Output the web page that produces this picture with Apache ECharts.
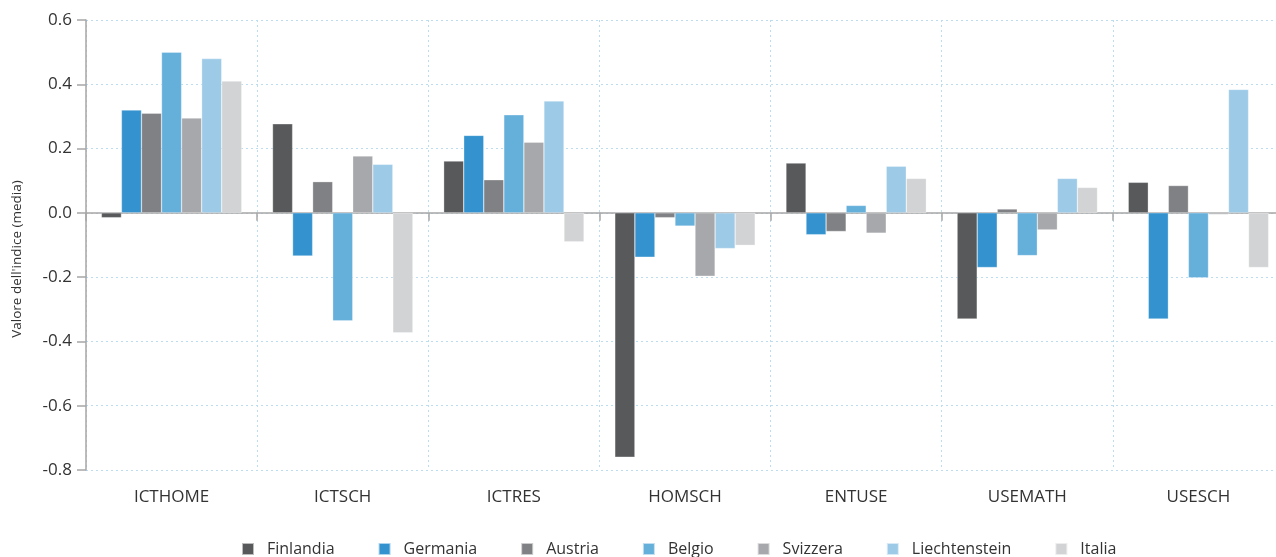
<!DOCTYPE html>
<html>
<head>
<meta charset="utf-8">
<script src="https://cdn.jsdelivr.net/npm/echarts@6/dist/echarts.min.js"></script>
<style>
  html, body { margin: 0; padding: 0; background: #fff; }
  #chart { width: 1276px; height: 557px; }
</style>
</head>
<body>
<div id="chart"></div>
<script>
var chart = echarts.init(document.getElementById('chart'));

var categories = ['ICTHOME', 'ICTSCH', 'ICTRES', 'HOMSCH', 'ENTUSE', 'USEMATH', 'USESCH'];
var countries = ['Finlandia', 'Germania', 'Austria', 'Belgio', 'Svizzera', 'Liechtenstein', 'Italia'];
var colors = ['#58595b', '#3493cf', '#808184', '#65afdb', '#a7a8ab', '#9dcae7', '#d2d3d5'];

// valori per paese, nell'ordine delle categorie
var finlandia     = [-0.015,  0.277,  0.161, -0.760,  0.155, -0.330,  0.095];
var germania      = [ 0.320, -0.134,  0.241, -0.138, -0.068, -0.170, -0.330];
var austria       = [ 0.310,  0.097,  0.103, -0.015, -0.058,  0.012,  0.085];
var belgio        = [ 0.500, -0.336,  0.305, -0.041,  0.023, -0.133, -0.202];
var svizzera      = [ 0.295,  0.177,  0.220, -0.197, -0.063, -0.053, -0.005];
var liechtenstein = [ 0.480,  0.151,  0.348, -0.111,  0.145,  0.107,  0.384];
var italia        = [ 0.410, -0.373, -0.090, -0.101,  0.107,  0.079, -0.170];

var yTicks = { min: -0.8, max: 0.6, interval: 0.2 };

var values = [finlandia, germania, austria, belgio, svizzera, liechtenstein, italia];

var series = countries.map(function (name, i) {
    return {
        name: name,
        type: 'bar',
        xAxisIndex: 0,
        barGap: 0,
        barCategoryGap: '18%',
        itemStyle: {
            color: colors[i],
            borderColor: 'rgba(255,255,255,0.6)',
            borderWidth: 0.5
        },
        data: values[i]
    };
});

var option = {
    animation: false,
    color: colors,
    textStyle: { fontFamily: 'Open Sans' },
    grid: { left: 86, top: 20, bottom: 87, right: -8, outerBoundsMode: 'none' },
    legend: {
        left: 236,
        top: 536,
        itemWidth: 12,
        itemHeight: 12,
        itemGap: 43,
        icon: 'rect',
        textStyle: { fontSize: 16, color: '#333', padding: [0, 0, 0, 8] },
        data: countries
    },
    xAxis: [{
        type: 'category',
        data: categories,
        axisLine: { onZero: true, lineStyle: { color: '#a6a6a6', width: 1.5 } },
        axisTick: { show: true, length: 8, lineStyle: { color: '#a6a6a6', width: 1.5 } },
        axisLabel: { show: false },
        splitLine: { show: true, lineStyle: { color: '#bcdcf0', type: [2, 3] } }
    }, {
        type: 'category',
        data: categories,
        position: 'bottom',
        axisLine: { show: false, onZero: false },
        axisTick: { show: false },
        axisLabel: { fontSize: 17, color: '#333', margin: 19 }
    }],
    yAxis: {
        type: 'value',
        min: yTicks.min,
        max: yTicks.max,
        interval: yTicks.interval,
        // spazi finali per spostare il titolo un po' più in basso
        name: "Valore dell'indice (media)\u00a0\u00a0\u00a0\u00a0\u00a0\u00a0\u00a0\u00a0",
        nameLocation: 'middle',
        nameGap: 62,
        nameTextStyle: { fontSize: 13.5, color: '#333' },
        axisLine: { show: true, lineStyle: { color: '#a6a6a6', width: 1.5 } },
        axisTick: { show: true, length: 9, lineStyle: { color: '#a6a6a6', width: 1.5 } },
        axisLabel: {
            fontSize: 17,
            color: '#333',
            margin: 14,
            formatter: function (v) { return v.toFixed(1); }
        },
        splitLine: { lineStyle: { color: '#bcdcf0', type: [2, 3] } }
    },
    series: series
};

chart.setOption(option);
</script>
</body>
</html>
